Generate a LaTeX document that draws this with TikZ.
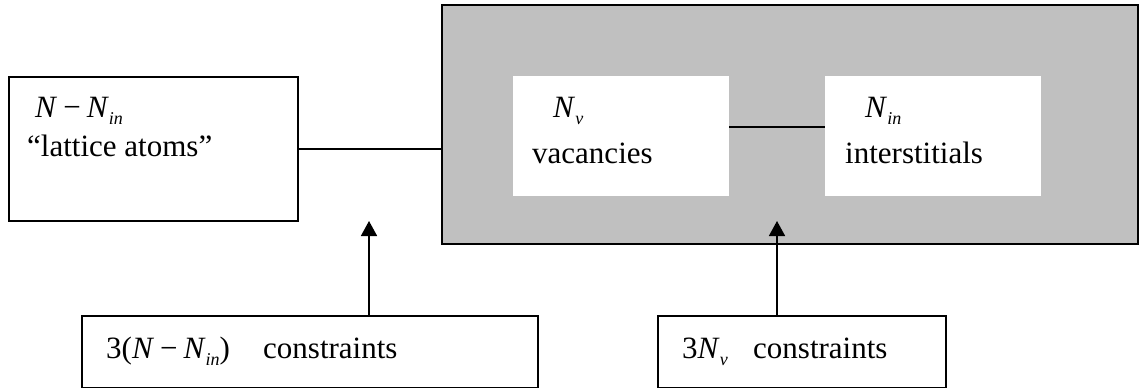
\documentclass[tikz,border=0pt]{standalone}
\usepackage{fontspec}
\setmainfont{Liberation Serif}
\usetikzlibrary{arrows.meta}
\definecolor{boxgray}{RGB}{192,192,192}
\newcommand\subs[1]{\raisebox{-7pt}{\fontsize{18}{18}\selectfont\itshape #1}}
\newcommand\mmin{\hspace{6pt}−\hspace{6pt}}
\begin{document}
\begin{tikzpicture}[x=1pt,y=-1pt,
  box/.style={draw, line width=1.6pt, inner sep=0pt, anchor=north west},
  inbox/.style={fill=white, inner sep=0pt, anchor=north west, minimum width=216pt, minimum height=120pt},
  lbl/.style={anchor=base west, inner sep=0pt, font=\fontsize{31}{36}\selectfont},
  conn/.style={line width=1.6pt},
  arr/.style={line width=1.6pt, -{Triangle[width=16pt,length=15pt]}}]
\useasboundingbox (0,0) rectangle (1140,388);
\node[box, minimum width=289pt, minimum height=144pt] (lat) at (8,76) {};
\node[box, fill=boxgray, minimum width=696pt, minimum height=239pt] (gray) at (441,4) {};
\node[inbox] (vac) at (513,76) {};
\node[inbox] (int) at (825,76) {};
\node[box, minimum width=456pt, minimum height=72pt] (bl) at (81,315) {};
\node[box, minimum width=288pt, minimum height=72pt] (br) at (657,315) {};
\node[lbl] (t1) at (35,117) {\textit{N}\mmin\textit{N}\subs{in}};
\node[lbl] (t2) at (27,156) {“lattice atoms”};
\node[lbl] (t3) at (553,117) {\textit{N}\subs{v}};
\node[lbl] (t4) at (532,163) {vacancies};
\node[lbl] (t5) at (865,117) {\textit{N}\subs{in}};
\node[lbl] (t6) at (845,163) {interstitials};
\node[lbl] (t7) at (106,358) {3(\textit{N}\mmin\textit{N}\subs{in})};
\node[lbl] (t7b) at (263,358) {constraints};
\node[lbl] (t8) at (682,358) {3\textit{N}\subs{v}};
\node[lbl] (t8b) at (753,358) {constraints};
\coordinate (lv) at (0,127);
\coordinate (a1) at (369,221);
\coordinate (a2) at (777,221);
\draw[conn] (lat.east) -- (lat.east -| gray.west);
\draw[conn] (vac.east |- lv) -- (int.west |- lv);
\draw[arr] (bl.north -| a1) -- (a1);
\draw[arr] (br.north -| a2) -- (a2);
\end{tikzpicture}
\end{document}
